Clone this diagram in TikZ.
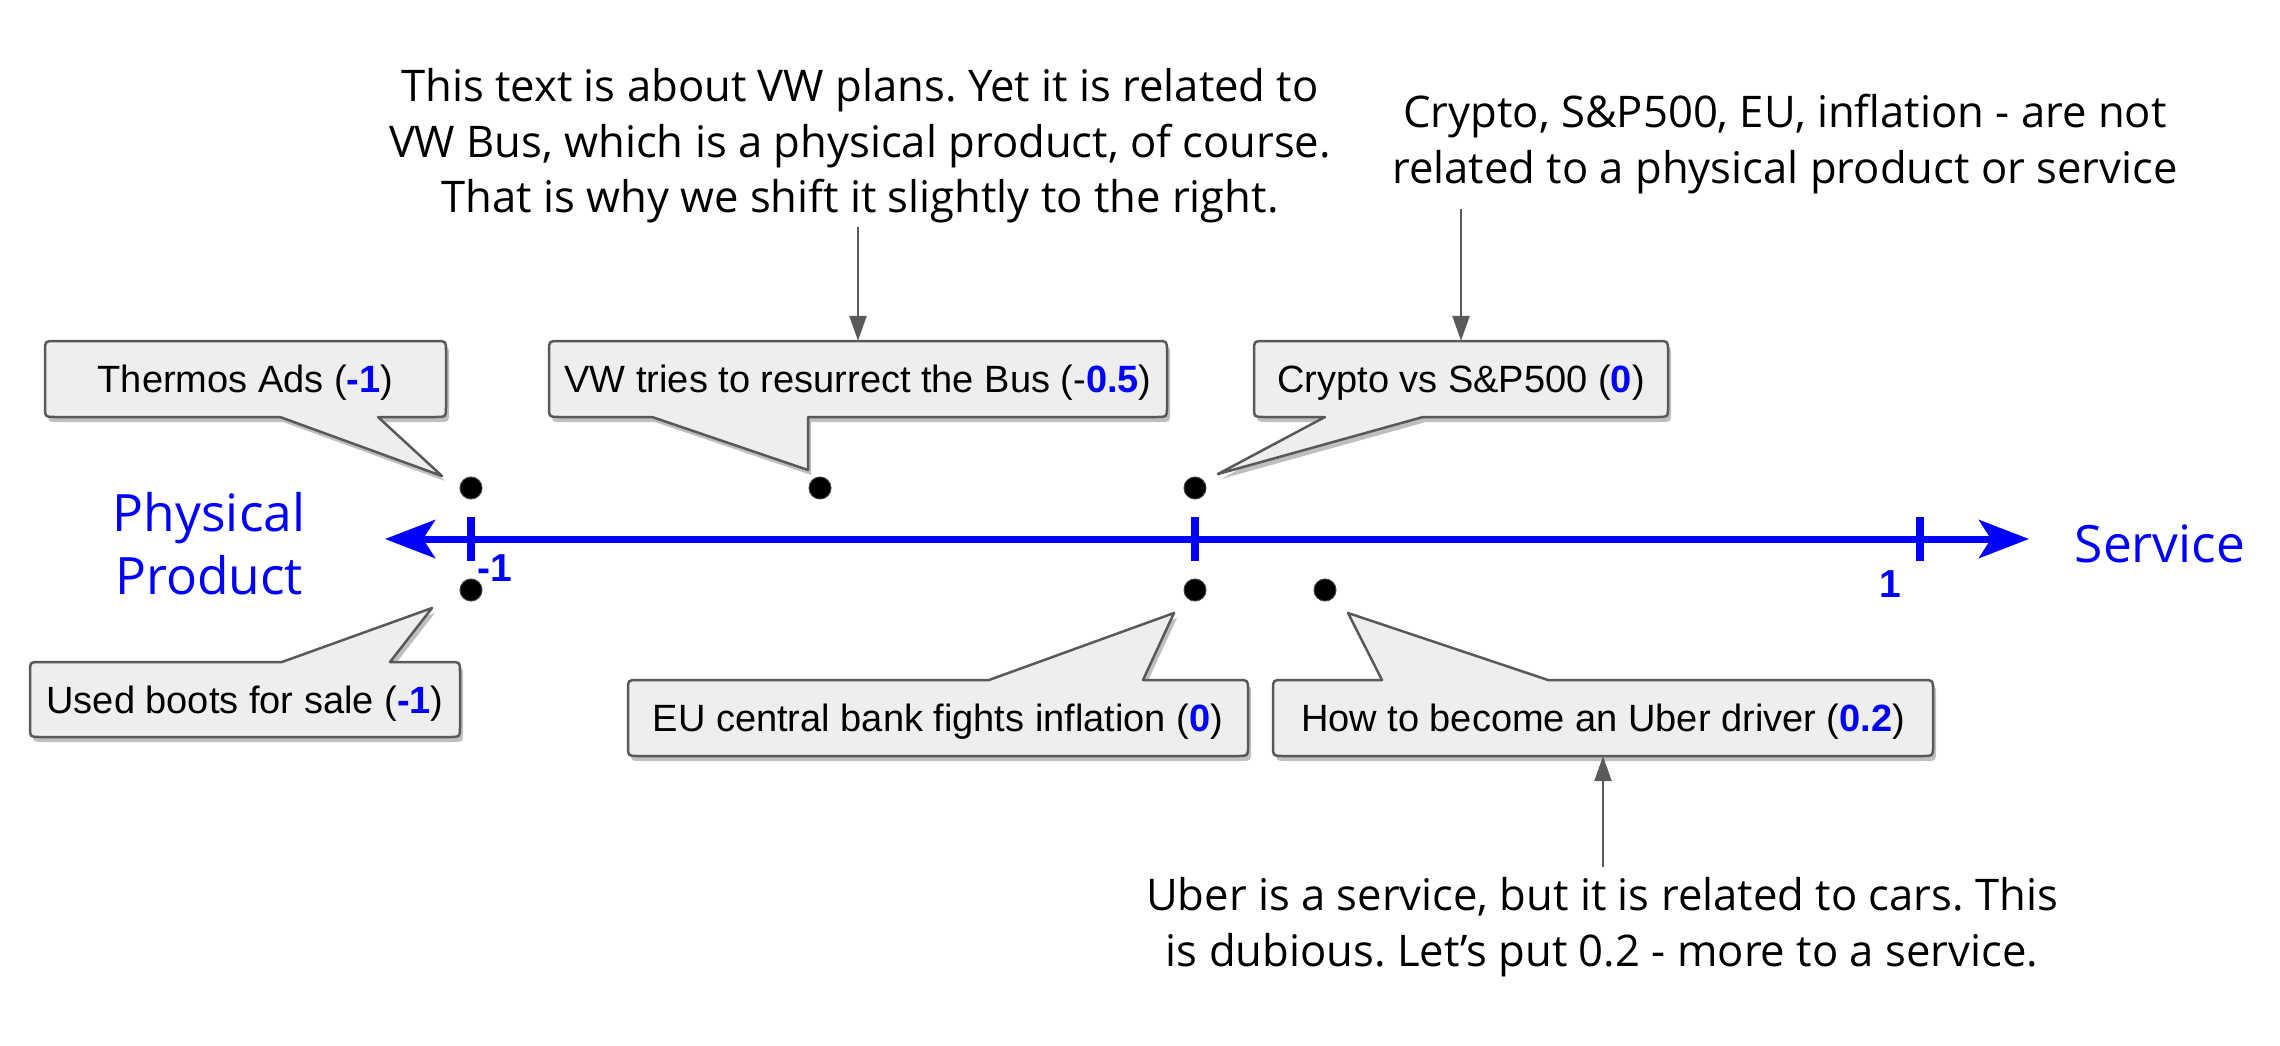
\documentclass[tikz,border=0pt]{standalone}
\usepackage{fontspec}
\setmainfont{Liberation Sans}
\newfontfamily\notefont{Open Sans}
\usetikzlibrary{arrows.meta,shadows}
\definecolor{pblue}{HTML}{0000FF}
\definecolor{bordergray}{HTML}{595959}
\definecolor{boxfill}{HTML}{EEEEEE}
\definecolor{arrgray}{HTML}{5A5A5A}
\newcommand{\bv}[1]{\textbf{\color{pblue}#1}}
\frenchspacing
% callout with pointer on the bottom edge: x1,y1,x2,y2,a,b,tx,ty
\newcommand{\calloutbottom}[8]{%
 \path[callshape] ({#1+10},#2) -- ({#3-10},#2) .. controls (#3,#2) .. (#3,{#2+10})
   -- (#3,{#4-10}) .. controls (#3,#4) .. ({#3-10},#4) -- (#6,#4) -- (#7,#8) -- (#5,#4)
   -- ({#1+10},#4) .. controls (#1,#4) .. (#1,{#4-10}) -- (#1,{#2+10}) .. controls (#1,#2) .. ({#1+10},#2) -- cycle;}
% callout with pointer on the top edge: x1,y1,x2,y2,a,b,tx,ty
\newcommand{\callouttop}[8]{%
 \path[callshape] ({#1+10},#2) -- (#5,#2) -- (#7,#8) -- (#6,#2) -- ({#3-10},#2) .. controls (#3,#2) .. (#3,{#2+10})
   -- (#3,{#4-10}) .. controls (#3,#4) .. ({#3-10},#4)
   -- ({#1+10},#4) .. controls (#1,#4) .. (#1,{#4-10}) -- (#1,{#2+10}) .. controls (#1,#2) .. ({#1+10},#2) -- cycle;}
\tikzset{
 callshape/.style={draw=bordergray, line width=2.5pt, fill=boxfill, line join=round,
   drop shadow={shadow xshift=3pt, shadow yshift=-5pt, opacity=0.25, fill=black}},
 calltext/.style={inner sep=0pt, text height=27pt, text depth=0pt, font=\fontsize{38}{44}\selectfont},
 note/.style={align=center, inner sep=0pt, font=\notefont\fontsize{43.6}{55.5}\selectfont},
 bluelabel/.style={align=center, inner sep=0pt, text=pblue, font=\notefont\fontsize{51.5}{63}\selectfont},
 ticklabel/.style={inner sep=0pt, text=pblue, font=\bfseries\fontsize{39}{40}\selectfont},
 dot/.style={circle, fill=black, draw=black!75, line width=1pt, minimum size=22pt, inner sep=0pt},
 notearrow/.style={draw=arrgray, line width=2.5pt, -{Triangle[length=25pt,width=17pt]}},
 axisline/.style={draw=pblue, line width=7pt},
 tickmark/.style={draw=pblue, line width=8pt},
}
\begin{document}
\begin{tikzpicture}[x=1pt,y=-1pt]
\useasboundingbox (0,0) rectangle (2280,1046);
\fill[white] (0,0) rectangle (2280,1046);

% axis
\coordinate (axL) at (385,539);
\coordinate (axR) at (2029,539);
\draw[axisline, {Stealth[length=50pt,width=38pt,inset=12pt]}-{Stealth[length=50pt,width=38pt,inset=12pt]}] (axL) -- (axR);
\draw[tickmark] (471,517) -- (471,561);
\draw[tickmark] (1195,517) -- (1195,561);
\draw[tickmark] (1920,517) -- (1920,561);
\node[ticklabel] (lm1) at (495,568) {-1};
\node[ticklabel] (lp1) at (1890,584) {1};

\node[bluelabel] (phys) at (209,544) {Physical\\Product};
\node[bluelabel] (serv) at (2160,544) {Service};

% callouts
\calloutbottom{45}{341}{446}{417}{280}{378}{442}{476}
\calloutbottom{549}{341}{1167}{417}{652}{808}{808}{470}
\calloutbottom{1254}{341}{1668}{417}{1325}{1423}{1218}{474}
\callouttop{30}{662}{460}{737}{282}{390}{432}{608}
\callouttop{628}{680}{1248}{756}{989}{1143}{1174}{613}
\callouttop{1273}{680}{1933}{756}{1382}{1548}{1348}{613}

\node[calltext, minimum width=401pt, minimum height=76pt] (thermos) at (245.5,379) {Thermos Ads (\bv{-1})};
\node[calltext, minimum width=618pt, minimum height=76pt] (vwbox) at (858,379) {VW tries to resurrect the Bus (-\bv{0.5})};
\node[calltext, minimum width=414pt, minimum height=76pt] (cryptobox) at (1461,379) {Crypto vs S\&P500 (\bv{0})};
\node[calltext, minimum width=430pt, minimum height=75pt] (boots) at (245,699.5) {Used boots for sale (\bv{-1})};
\node[calltext, minimum width=620pt, minimum height=76pt] (eubox) at (938,718) {EU central bank fights inflation (\bv{0})};
\node[calltext, minimum width=660pt, minimum height=76pt] (uberbox) at (1603,718) {How to become an Uber driver (\bv{0.2})};

% annotations
\node[note] (vwnote) at (860,146) {This text is about VW plans. Yet it is related to\\VW Bus, which is a physical product, of course.\\That is why we shift it slightly to the right.};
\node[note] (cryptonote) at (1785,144) {Crypto, S\&P500, EU, inflation - are not\\related to a physical product or service};
\node[note] (ubernote) at (1602,927) {Uber is a service, but it is related to cars. This\\is dubious. Let’s put 0.2 - more to a service.};

\draw[notearrow] ([yshift=-3pt]vwbox.north |- vwnote.south) -- (vwbox.north);
\draw[notearrow] ([yshift=-15pt]cryptobox.north |- cryptonote.south) -- (cryptobox.north);
\draw[notearrow] ([yshift=10pt]uberbox.south |- ubernote.north) -- (uberbox.south);

% dots
\node[dot] (d1) at (471,488) {};
\node[dot] (d2) at (820,488) {};
\node[dot] (d3) at (1195,488) {};
\node[dot] (d4) at (471,590) {};
\node[dot] (d5) at (1195,590) {};
\node[dot] (d6) at (1325,590) {};
\end{tikzpicture}
\end{document}
